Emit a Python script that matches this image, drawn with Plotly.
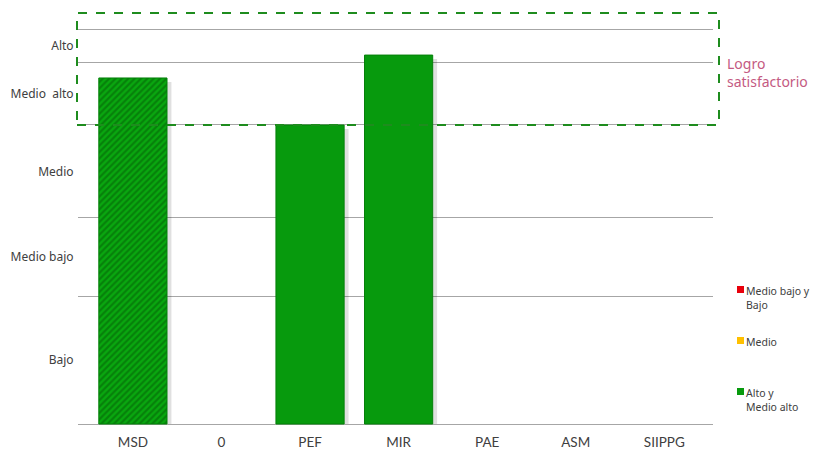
import plotly.graph_objects as go

categories = ["MSD", "0", "PEF", "MIR", "PAE", "ASM", "SIIPPG"]
values = [87.6, None, 75.7, 93.4, None, None, None]
hatched = ["/", "", "", "", "", "", ""]

band_edges = [0, 32.4, 52.2, 75.7, 91.6, 100]
band_labels = ["Bajo", "Medio bajo", "Medio", "Medio  alto", "Alto"]
band_centers = [(band_edges[i] + band_edges[i + 1]) / 2 for i in range(len(band_labels))]

legend_names = ["Medio bajo y<br>Bajo", "Medio", "Alto y<br>Medio alto"]
legend_colors = ["#e8000b", "#ffc000", "#079a0d"]

GREEN = "#079a0d"

# page body adds an 8px offset; plot area expressed in page pixels
OFF = 8
PAD = 2  # px of padding so edge gridlines are drawn
L, R, T, B = 78, 713, 29 - PAD, 424 + PAD
W, H = R - L, B - T
YPAD = PAD * 100 / 395


def px(xp):
    return (xp - L) / W


def py(yp):
    return (B - yp) / H


fig = go.Figure()

# soft drop shadow
fig.add_trace(go.Bar(
    x=list(range(len(categories))), y=[v - 1.0 if v is not None else None for v in values],
    width=0.77, offset=-0.385 + 0.05,
    marker=dict(color="rgba(0,0,0,0.12)", line=dict(width=0)),
    showlegend=False, hoverinfo="skip",
))

fig.add_trace(go.Bar(
    x=list(range(len(categories))), y=values, width=0.77, offset=-0.385,
    marker=dict(color=GREEN, line=dict(color="#05800a", width=1),
                pattern=dict(shape=hatched, fgcolor="#035a05", bgcolor="#09a80f",
                             size=4.5, solidity=0.5)),
    showlegend=False,
))

# gridline axis
fig.add_trace(go.Scatter(x=[None], y=[None], yaxis="y2", showlegend=False))

shapes = [dict(
    type="rect", xref="paper", yref="paper",
    x0=px(77), x1=px(719), y0=py(125), y1=py(13),
    line=dict(color="#1e8c1e", width=2, dash="dash"), fillcolor="rgba(0,0,0,0)",
    layer="above",
)]
annotations = [dict(
    xref="paper", yref="paper", x=px(725), y=py(52),
    xanchor="left", yanchor="top", align="left", showarrow=False,
    text="Logro<br>satisfactorio",
    font=dict(family="Noto Sans", size=14, color="#c45a82"),
)]

legend_tops = [286, 337, 388]
for name, col, top in zip(legend_names, legend_colors, legend_tops):
    shapes.append(dict(
        type="rect", xref="paper", yref="paper",
        x0=px(737), x1=px(744), y0=py(top + 7), y1=py(top),
        line=dict(width=0), fillcolor=col,
    ))
    annotations.append(dict(
        xref="paper", yref="paper", x=px(744), y=py(top - 4),
        xanchor="left", yanchor="top", align="left", showarrow=False,
        text=name, font=dict(family="Noto Sans", size=10.5, color="#404040"),
    ))

fig.update_layout(
    width=819, height=450,
    margin=dict(l=L - OFF, r=819 - (R - OFF), t=T - OFF, b=450 - (B - OFF), autoexpand=False),
    plot_bgcolor="white", paper_bgcolor="white",
    barmode="overlay", showlegend=False,
    xaxis=dict(
        range=[-0.62, 6.55], tickmode="array",
        tickvals=list(range(len(categories))), ticktext=categories,
        showgrid=False, zeroline=False, showline=False,
        ticks="outside", ticklen=4, tickcolor="rgba(0,0,0,0)",
        tickfont=dict(family="Lato", size=13.5, color="#404040"),
    ),
    yaxis=dict(
        range=[-YPAD, 100 + YPAD], tickmode="array", tickvals=band_centers, ticktext=band_labels,
        showgrid=False, zeroline=False, showline=False,
        ticks="outside", ticklen=1, tickcolor="rgba(0,0,0,0)",
        tickfont=dict(family="Noto Sans", size=12, color="#404040"),
    ),
    yaxis2=dict(
        range=[-YPAD, 100 + YPAD], overlaying="y", side="left", tickmode="array",
        tickvals=band_edges, showticklabels=False, showgrid=True,
        gridcolor="#a6a6a6", gridwidth=1, zeroline=False, showline=False,
    ),
    shapes=shapes,
    annotations=annotations,
)

fig.write_html("out.html")
